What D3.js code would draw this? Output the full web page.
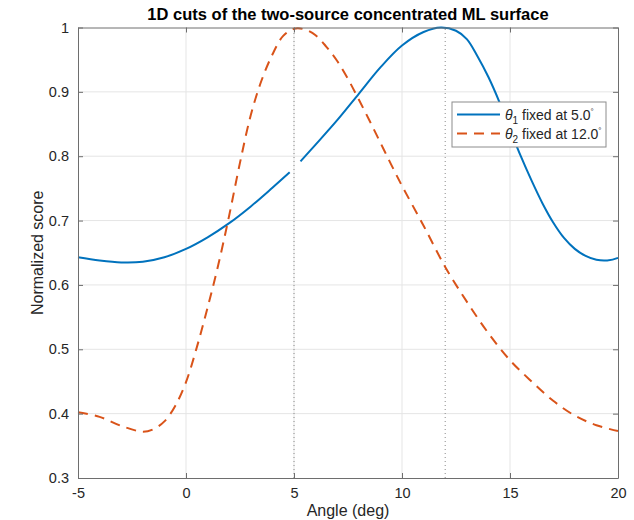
<!DOCTYPE html>
<html>
<head>
<meta charset="utf-8">
<script src="https://cdn.jsdelivr.net/npm/d3@7"></script>
<style>
  body { margin: 0; background: #fff; }
  svg { font-family: "Liberation Sans", Arial, sans-serif; }
</style>
</head>
<body>
<div id="chart"></div>
<script>
// theta1 fixed at 5.0 deg (null = gap at the fixed angle)
const blueAngles = [-5, -4, -3, -2, -1, 0, 1, 2, 3, 4, 4.8, 5, 5.3, 6, 7, 8, 9, 10, 11, 11.8, 12.5, 13, 13.5, 14, 14.5, 15, 15.5, 16, 16.5, 17, 17.5, 18, 18.5, 19, 19.5, 20];
const blueScores = [0.643, 0.638, 0.635, 0.636, 0.643, 0.656, 0.674, 0.696, 0.722, 0.751, 0.775, null, 0.792, 0.818, 0.856, 0.897, 0.938, 0.972, 0.993, 1.0, 0.995, 0.982, 0.955, 0.923, 0.885, 0.842, 0.8, 0.762, 0.727, 0.697, 0.673, 0.656, 0.645, 0.639, 0.638, 0.642];

// theta2 fixed at 12.0 deg
const orangeAngles = [-5, -4, -3, -2, -1.5, -1, -0.5, 0, 0.5, 1, 1.5, 2, 2.5, 3, 3.5, 4, 4.5, 5, 5.5, 6, 6.5, 7, 7.5, 8, 8.5, 9, 9.5, 10, 11, 12, 13, 14, 15, 16, 17, 18, 19, 20];
const orangeScores = [0.402, 0.395, 0.381, 0.372, 0.376, 0.388, 0.412, 0.449, 0.503, 0.565, 0.632, 0.708, 0.79, 0.864, 0.918, 0.958, 0.987, 0.998, 0.997, 0.988, 0.97, 0.948, 0.92, 0.888, 0.855, 0.821, 0.787, 0.754, 0.692, 0.628, 0.574, 0.525, 0.483, 0.45, 0.42, 0.397, 0.382, 0.373];

const xTicks = [-5, 0, 5, 10, 15, 20];
const yTicks = [0.3, 0.4, 0.5, 0.6, 0.7, 0.8, 0.9, 1];
const markerAngles = [5, 12];

const width = 634, height = 520;
const margin = { top: 27.5, right: 16, bottom: 42, left: 78 };

const svg = d3.select("#chart").append("svg")
  .attr("width", width)
  .attr("height", height);

const x = d3.scaleLinear().domain([-5, 20]).range([margin.left, width - margin.right]);
const y = d3.scaleLinear().domain([0.3, 1]).range([height - margin.bottom, margin.top]);

// grid
svg.append("g").selectAll("line").data(xTicks.slice(1, -1)).join("line")
  .attr("x1", d => x(d)).attr("x2", d => x(d))
  .attr("y1", y(0.3)).attr("y2", y(1))
  .attr("stroke", "#e5e5e5");
svg.append("g").selectAll("line").data(yTicks.slice(1, -1)).join("line")
  .attr("x1", x(-5)).attr("x2", x(20))
  .attr("y1", d => y(d)).attr("y2", d => y(d))
  .attr("stroke", "#e5e5e5");

// dotted markers at the fixed angles
svg.append("g").selectAll("line").data(markerAngles).join("line")
  .attr("x1", d => x(d)).attr("x2", d => x(d))
  .attr("y1", y(0.3)).attr("y2", y(1))
  .attr("stroke", "#8a8a8a")
  .attr("stroke-width", 1)
  .attr("stroke-dasharray", "1,3");

// curves
const line = d3.line()
  .defined(d => d[1] != null)
  .x(d => x(d[0]))
  .y(d => y(d[1]))
  .curve(d3.curveCatmullRom.alpha(0.5));

svg.append("path")
  .datum(blueAngles.map((a, i) => [a, blueScores[i]]))
  .attr("fill", "none")
  .attr("stroke", "#0072BD")
  .attr("stroke-width", 2)
  .attr("d", line);

svg.append("path")
  .datum(orangeAngles.map((a, i) => [a, orangeScores[i]]))
  .attr("fill", "none")
  .attr("stroke", "#D95319")
  .attr("stroke-width", 2)
  .attr("stroke-dasharray", "10,7")
  .attr("d", line);

// axes (box with inward ticks)
const axisColor = "#6e6e6e";
const tickLen = 5;
const xAxisBottom = svg.append("g")
  .attr("transform", `translate(0,${y(0.3)})`)
  .call(d3.axisBottom(x).tickValues(xTicks).tickSizeInner(-tickLen).tickSizeOuter(0).tickPadding(10).tickFormat(d => String(d)));
const xAxisTop = svg.append("g")
  .attr("transform", `translate(0,${y(1)})`)
  .call(d3.axisTop(x).tickValues(xTicks).tickSizeInner(-tickLen).tickSizeOuter(0).tickFormat(""));
const yAxisLeft = svg.append("g")
  .attr("transform", `translate(${x(-5)},0)`)
  .call(d3.axisLeft(y).tickValues(yTicks).tickSizeInner(-tickLen).tickSizeOuter(0).tickPadding(9).tickFormat(d => d === 1 ? "1" : d3.format(".1f")(d)));
const yAxisRight = svg.append("g")
  .attr("transform", `translate(${x(20)},0)`)
  .call(d3.axisRight(y).tickValues(yTicks).tickSizeInner(-tickLen).tickSizeOuter(0).tickFormat(""));

[xAxisBottom, xAxisTop, yAxisLeft, yAxisRight].forEach(g => {
  g.select(".domain").attr("stroke", axisColor);
  g.selectAll(".tick line").attr("stroke", axisColor);
  g.selectAll("text").attr("fill", "#262626").style("font-size", "14.5px");
});

// labels
svg.append("text")
  .attr("x", (x(-5) + x(20)) / 2)
  .attr("y", 516)
  .attr("text-anchor", "middle")
  .attr("fill", "#262626")
  .style("font-size", "16px")
  .text("Angle (deg)");

svg.append("text")
  .attr("transform", `translate(43,${(y(0.3) + y(1)) / 2}) rotate(-90)`)
  .attr("text-anchor", "middle")
  .attr("fill", "#262626")
  .style("font-size", "16px")
  .text("Normalized score");

svg.append("text")
  .attr("x", (x(-5) + x(20)) / 2)
  .attr("y", 20)
  .attr("text-anchor", "middle")
  .attr("fill", "#000")
  .style("font-size", "16.5px")
  .style("font-weight", "bold")
  .text("1D cuts of the two-source concentrated ML surface");

// legend
const legend = svg.append("g").attr("transform", "translate(452,102)");
legend.append("rect")
  .attr("width", 154).attr("height", 45)
  .attr("fill", "#fff")
  .attr("stroke", "#8c8c8c");

const legendItems = [
  { sub: "1", value: "5.0", color: "#0072BD", dash: null },
  { sub: "2", value: "12.0", color: "#D95319", dash: "10,7" }
];
legendItems.forEach((item, i) => {
  const cy = 12.5 + i * 19;
  legend.append("line")
    .attr("x1", 5).attr("x2", 48)
    .attr("y1", cy).attr("y2", cy)
    .attr("stroke", item.color)
    .attr("stroke-width", 2)
    .attr("stroke-dasharray", item.dash);
  const t = legend.append("text")
    .attr("x", 53).attr("y", cy + 5)
    .attr("fill", "#262626")
    .style("font-size", "14px");
  t.append("tspan").style("font-style", "italic").text("θ");
  t.append("tspan").attr("dy", 4).style("font-size", "10px").text(item.sub);
  t.append("tspan").attr("dy", -4).text(` fixed at ${item.value}`);
  t.append("tspan").attr("dy", -6).style("font-size", "8px").text("°");
});
</script>
</body>
</html>
